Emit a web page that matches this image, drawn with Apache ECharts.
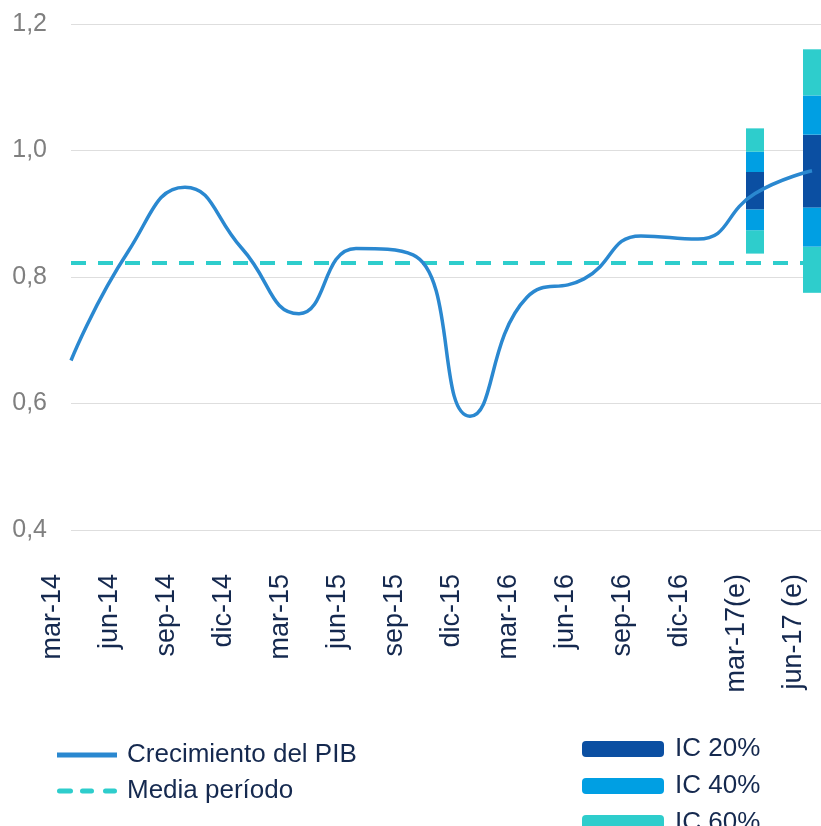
<!DOCTYPE html>
<html>
<head>
<meta charset="utf-8">
<script src="https://cdn.jsdelivr.net/npm/echarts@6/dist/echarts.min.js"></script>
<style>
  html, body { margin: 0; padding: 0; background: #fff; }
  #chart { width: 821px; height: 826px; }
</style>
</head>
<body>
<div id="chart"></div>
<script>
var chartDom = document.getElementById('chart');
var myChart = echarts.init(chartDom);
var option;

// datos
let categories = ['mar-14', 'jun-14', 'sep-14', 'dic-14', 'mar-15', 'jun-15', 'sep-15',
    'dic-15', 'mar-16', 'jun-16', 'sep-16', 'dic-16', 'mar-17(e)', 'jun-17 (e)'];
let pib = [0.668, 0.84, 0.942, 0.845, 0.742, 0.845, 0.835, 0.58, 0.768, 0.797, 0.865, 0.86, 0.932, 0.968];
let media = 0.822;

// bandas de confianza (solo previsiones)
let fanCats = ['mar-17(e)', 'jun-17 (e)'];
let ic60Low = [0.837, 0.775];
let ic40Low = [0.874, 0.848];
let ic20Low = [0.907, 0.910];
let ic20High = [0.966, 1.025];
let ic40High = [0.998, 1.087];
let ic60High = [1.035, 1.160];

let yTicks = [0.4, 0.6, 0.8, 1.0, 1.2];

let navy = '#15294f';
let cLine = '#2a88d0';
let cDark = '#0b4fa2';
let cMid = '#009fe3';
let cLight = '#2ecdcc';

function fanSeries(fn) {
    return categories.map(function (c) {
        var i = fanCats.indexOf(c);
        return i < 0 ? '-' : +fn(i).toFixed(4);
    });
}

let mediaData = categories.map(function () { return media; });

function bar(name, color, data) {
    return {
        name: name,
        type: 'bar',
        stack: 'fan',
        xAxisIndex: 1,
        yAxisIndex: 1,
        barWidth: 18,
        clip: false,
        z: 2,
        itemStyle: { color: color },
        emphasis: { disabled: true },
        data: data
    };
}

option = {
    animation: false,
    grid: [
        { left: 71, right: 0, top: 24, bottom: 296 },
        { left: 71, right: 9, top: 24, bottom: 296 }
    ],
    legend: [{
        orient: 'vertical',
        left: 57,
        top: 742,
        height: 80,
        padding: 0,
        itemWidth: 60,
        itemHeight: 5,
        itemGap: 10,
        textStyle: { fontFamily: 'Liberation Sans', fontSize: 26, color: navy, lineHeight: 24, padding: [0, 0, 0, 5] },
        data: [{
            name: 'Crecimiento del PIB',
            icon: 'rect',
            itemStyle: { color: cLine }
        }, {
            name: 'Media período',
            icon: 'path://M2.5,0h11a2.5,2.5 0 0 1 0,5h-11a2.5,2.5 0 0 1 0,-5z M25.5,0h9a2.5,2.5 0 0 1 0,5h-9a2.5,2.5 0 0 1 0,-5z M48.5,0h9a2.5,2.5 0 0 1 0,5h-9a2.5,2.5 0 0 1 0,-5z',
            itemStyle: { color: cLight }
        }]
    }, {
        orient: 'vertical',
        left: 582,
        top: 736,
        height: 120,
        padding: 0,
        itemWidth: 82,
        itemHeight: 16,
        itemGap: 11,
        textStyle: { fontFamily: 'Liberation Sans', fontSize: 26, color: navy, lineHeight: 24, padding: [0, 0, 0, 6] },
        data: ['IC 20%', 'IC 40%', 'IC 60%']
    }],
    xAxis: [{
        gridIndex: 0,
        type: 'value',
        show: false
    }, {
        gridIndex: 1,
        type: 'category',
        boundaryGap: false,
        data: categories,
        axisLine: { show: false },
        axisTick: { show: false },
        axisLabel: {
            interval: 0,
            rotate: 90,
            margin: 44,
            fontFamily: 'Liberation Sans',
            fontSize: 27,
            color: navy,
            verticalAlign: 'bottom',
            lineHeight: 36
        }
    }],
    yAxis: [{
        gridIndex: 0,
        type: 'value',
        min: yTicks[0],
        max: yTicks[yTicks.length - 1],
        interval: 0.2,
        axisLine: { show: false },
        axisTick: { show: false },
        axisLabel: {
            margin: 24,
            fontFamily: 'Liberation Sans',
            fontSize: 25,
            color: '#7f7f7f',
            formatter: function (v) {
                return v.toFixed(1).replace('.', ',');
            }
        },
        splitLine: { lineStyle: { color: '#dedede', width: 1 } }
    }, {
        gridIndex: 1,
        type: 'value',
        min: yTicks[0],
        max: yTicks[yTicks.length - 1],
        interval: 0.2,
        show: false
    }],
    series: [
        {
            name: 'Media período',
            type: 'line',
            xAxisIndex: 1,
            yAxisIndex: 1,
            symbol: 'none',
            z: 1,
            lineStyle: { color: cLight, width: 4, type: [15, 12] },
            itemStyle: { color: cLight },
            emphasis: { disabled: true },
            data: mediaData
        },
        bar('base', 'transparent', fanSeries(function (i) { return ic60Low[i]; })),
        bar('IC 60%', cLight, fanSeries(function (i) { return ic40Low[i] - ic60Low[i]; })),
        bar('IC 40%', cMid, fanSeries(function (i) { return ic20Low[i] - ic40Low[i]; })),
        bar('IC 20%', cDark, fanSeries(function (i) { return ic20High[i] - ic20Low[i]; })),
        bar('IC 40%', cMid, fanSeries(function (i) { return ic40High[i] - ic20High[i]; })),
        bar('IC 60%', cLight, fanSeries(function (i) { return ic60High[i] - ic40High[i]; })),
        {
            name: 'Crecimiento del PIB',
            type: 'line',
            xAxisIndex: 1,
            yAxisIndex: 1,
            smooth: 0.5,
            symbol: 'none',
            z: 3,
            lineStyle: { color: cLine, width: 3.5 },
            itemStyle: { color: cLine },
            emphasis: { disabled: true },
            data: pib
        }
    ]
};

option && myChart.setOption(option);

window.onresize = function () {
    myChart.resize();
};
</script>
</body>
</html>
